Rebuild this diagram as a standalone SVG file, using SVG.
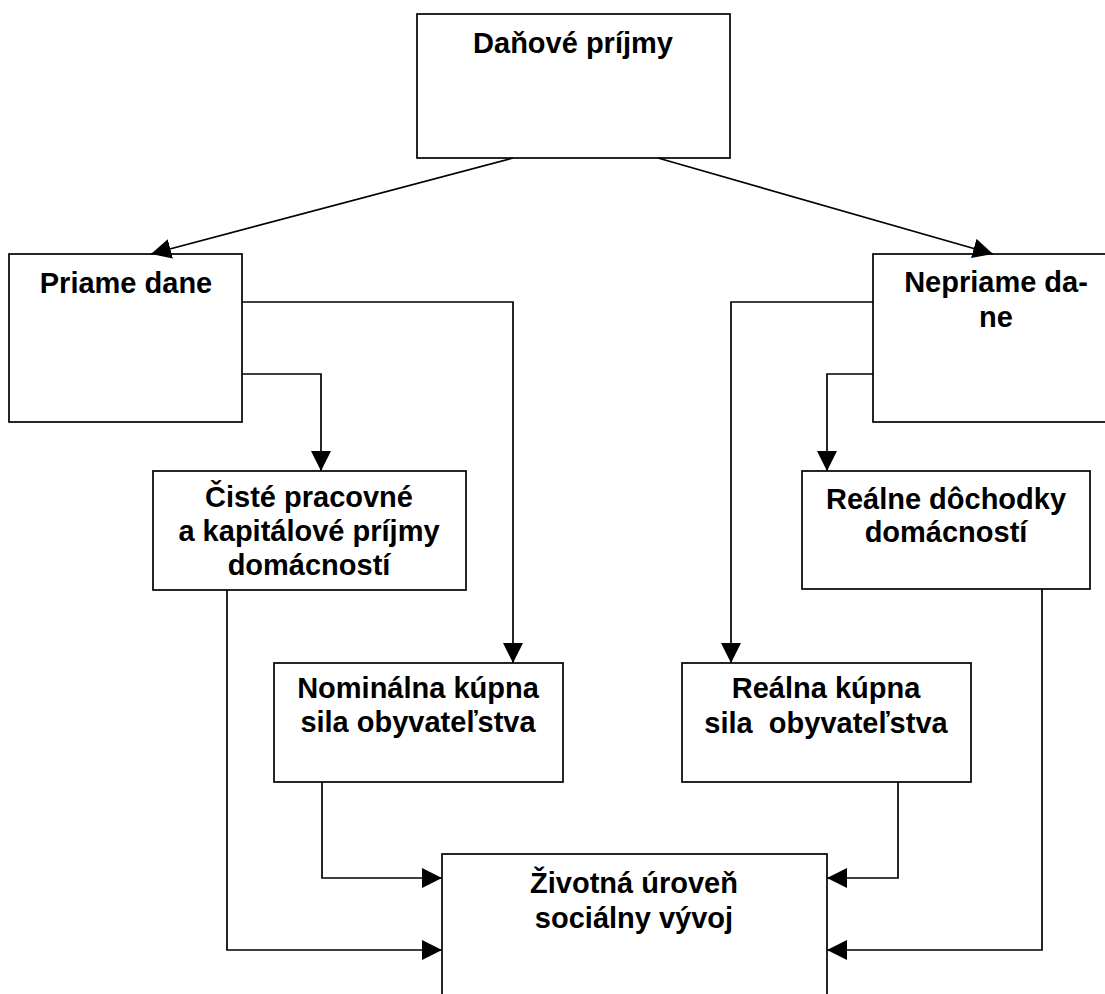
<svg xmlns="http://www.w3.org/2000/svg" width="1105" height="994" viewBox="0 0 1105 994">
<style>
.box{fill:#fff;stroke:#000;stroke-width:1.7}
.t{font-family:"Liberation Sans",Arial,sans-serif;font-weight:bold;font-size:29px;fill:#000;text-anchor:middle;white-space:pre}
.c{fill:none;stroke:#000;stroke-width:1.7}
</style>
<defs>
<marker id="arr" markerUnits="userSpaceOnUse" markerWidth="22" markerHeight="22" refX="20" refY="10" orient="auto">
<path d="M0,0 L20,10 L0,20 Z" fill="#000"/>
</marker>
</defs>
<rect width="1105" height="994" fill="#fff"/>
<g id="n-danove">
<rect class="box" x="417" y="14" width="313" height="144"/>
<text class="t" x="573" y="53">Daňové príjmy</text>
</g>
<g id="n-priame">
<rect class="box" x="9" y="254" width="233" height="168"/>
<text class="t" x="126" y="293">Priame dane</text>
</g>
<g id="n-nepriame">
<rect class="box" x="873" y="254" width="240" height="168"/>
<text class="t" x="996" y="292">Nepriame da-</text>
<text class="t" x="996" y="327">ne</text>
</g>
<g id="n-ciste">
<rect class="box" x="153" y="471" width="313" height="119"/>
<text class="t" x="309" y="507">Čisté pracovné</text>
<text class="t" x="309" y="541">a kapitálové príjmy</text>
<text class="t" x="309" y="575">domácností</text>
</g>
<g id="n-realne-dochodky">
<rect class="box" x="802" y="471" width="288" height="118"/>
<text class="t" x="946" y="509">Reálne dôchodky</text>
<text class="t" x="946" y="542">domácností</text>
</g>
<g id="n-nominalna">
<rect class="box" x="274" y="663" width="289" height="119"/>
<text class="t" x="418" y="698">Nominálna kúpna</text>
<text class="t" x="418" y="732">sila obyvateľstva</text>
</g>
<g id="n-realna">
<rect class="box" x="682" y="663" width="289" height="119"/>
<text class="t" x="826" y="698">Reálna kúpna</text>
<text class="t" x="826" y="733">sila  obyvateľstva</text>
</g>
<g id="n-zivotna">
<rect class="box" x="442" y="854" width="385" height="160"/>
<text class="t" x="634" y="893">Životná úroveň</text>
<text class="t" x="634" y="928">sociálny vývoj</text>
</g>
<g id="connectors">
<line class="c" x1="513" y1="158" x2="151" y2="254" marker-end="url(#arr)"/>
<line class="c" x1="658" y1="158" x2="993" y2="254" marker-end="url(#arr)"/>
<polyline class="c" points="242,302 513,302 513,663" marker-end="url(#arr)"/>
<polyline class="c" points="242,374 321,374 321,471" marker-end="url(#arr)"/>
<polyline class="c" points="873,302 731,302 731,663" marker-end="url(#arr)"/>
<polyline class="c" points="873,374 827,374 827,471" marker-end="url(#arr)"/>
<polyline class="c" points="227,590 227,950 442,950" marker-end="url(#arr)"/>
<polyline class="c" points="322,782 322,878 442,878" marker-end="url(#arr)"/>
<polyline class="c" points="898,782 898,878 827,878" marker-end="url(#arr)"/>
<polyline class="c" points="1042,589 1042,950 827,950" marker-end="url(#arr)"/>
</g>
</svg>
